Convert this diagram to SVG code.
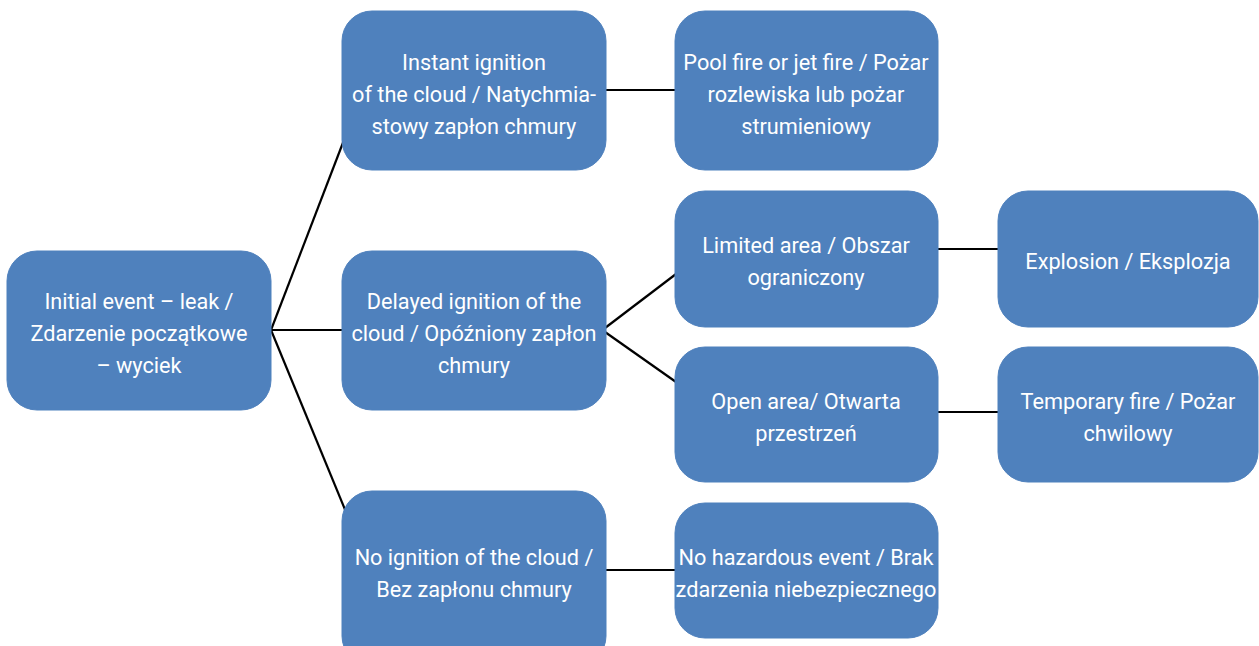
<svg xmlns="http://www.w3.org/2000/svg" width="1259" height="646" viewBox="0 0 1259 646">
<style>
.box{fill:#4F81BD;stroke:#4F81BD;stroke-width:1}
.t{fill:#fff;font-family:Roboto,"Liberation Sans",sans-serif;font-size:21.7px;text-anchor:middle}
.c{stroke:#000;stroke-width:2.2;fill:none}
</style>
<rect width="1259" height="646" fill="#fff"/>
<g id="connectors">
<line class="c" x1="271" y1="330" x2="344" y2="140"/>
<line class="c" x1="271" y1="330" x2="342" y2="330"/>
<line class="c" x1="271" y1="330" x2="346" y2="512"/>
<line class="c" x1="606" y1="90" x2="675" y2="90"/>
<line class="c" x1="605" y1="328" x2="676" y2="274"/>
<line class="c" x1="605" y1="332" x2="676" y2="382"/>
<line class="c" x1="938" y1="249" x2="998" y2="249"/>
<line class="c" x1="938" y1="412" x2="998" y2="412"/>
<line class="c" x1="606" y1="570" x2="676" y2="570"/>
</g>
<g id="n-initial"><rect class="box" x="7" y="251" width="264" height="159" rx="30"/>
<text class="t" x="139" y="309">Initial event – leak /</text><text class="t" x="139" y="341">Zdarzenie początkowe</text><text class="t" x="139" y="373">– wyciek</text></g>
<g id="n-instant"><rect class="box" x="342" y="11" width="264" height="159" rx="30"/>
<text class="t" x="474" y="70">Instant ignition</text><text class="t" x="474" y="102">of the cloud / Natychmia-</text><text class="t" x="474" y="134">stowy zapłon chmury</text></g>
<g id="n-pool"><rect class="box" x="675" y="11" width="263" height="159" rx="30"/>
<text class="t" x="806" y="70">Pool fire or jet fire / Pożar</text><text class="t" x="806" y="102">rozlewiska lub pożar</text><text class="t" x="806" y="134">strumieniowy</text></g>
<g id="n-delayed"><rect class="box" x="342" y="251" width="264" height="159" rx="30"/>
<text class="t" x="474" y="309">Delayed ignition of the</text><text class="t" x="474" y="341">cloud / Opóźniony zapłon</text><text class="t" x="474" y="373">chmury</text></g>
<g id="n-limited"><rect class="box" x="675" y="191" width="263" height="136" rx="30"/>
<text class="t" x="806" y="253">Limited area / Obszar</text><text class="t" x="806" y="285">ograniczony</text></g>
<g id="n-open"><rect class="box" x="675" y="347" width="263" height="135" rx="30"/>
<text class="t" x="806" y="409">Open area/ Otwarta</text><text class="t" x="806" y="441">przestrzeń</text></g>
<g id="n-explosion"><rect class="box" x="998" y="191" width="260" height="136" rx="30"/>
<text class="t" x="1128" y="269">Explosion / Eksplozja</text></g>
<g id="n-temporary"><rect class="box" x="998" y="347" width="260" height="135" rx="30"/>
<text class="t" x="1128" y="409">Temporary fire / Pożar</text><text class="t" x="1128" y="441">chwilowy</text></g>
<g id="n-noignition"><rect class="box" x="342" y="491" width="264" height="175" rx="30"/>
<text class="t" x="474" y="565">No ignition of the cloud /</text><text class="t" x="474" y="597">Bez zapłonu chmury</text></g>
<g id="n-nohazard"><rect class="box" x="675" y="503" width="263" height="135" rx="30"/>
<text class="t" x="806" y="565">No hazardous event / Brak</text><text class="t" x="806" y="597">zdarzenia niebezpiecznego</text></g>
</svg>
